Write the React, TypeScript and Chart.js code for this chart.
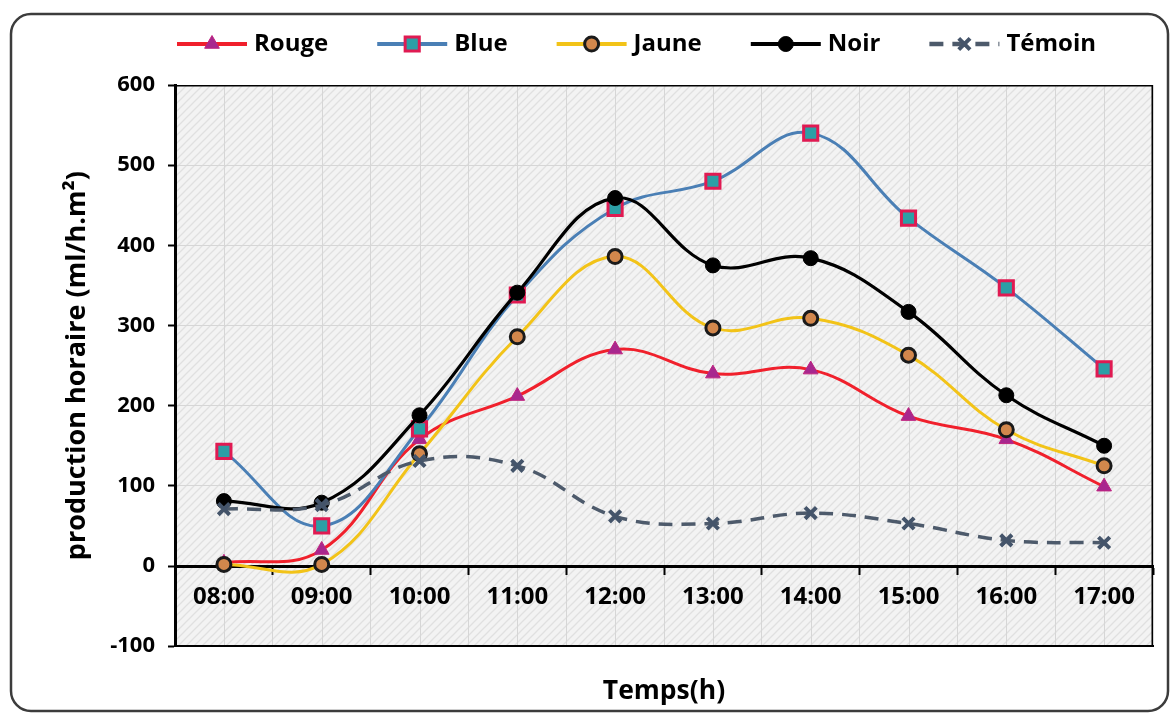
import React, { useEffect, useRef } from "react";
import { Chart, registerables } from "chart.js";
import { drawPoint } from "chart.js/helpers";

Chart.register(...registerables);

const labels = ["08:00", "09:00", "10:00", "11:00", "12:00", "13:00", "14:00", "15:00", "16:00", "17:00"];
const rouge = [4, 20, 158, 212, 270, 240, 245, 187, 158, 99];
const blue = [143, 50, 171, 338, 446, 480, 540, 434, 347, 246];
const jaune = [2, 2, 140, 286, 386, 297, 309, 263, 170, 125];
const noir = [81, 79, 188, 341, 459, 375, 384, 317, 213, 150];
const temoin = [71, 76, 131, 125, 62, 53, 66, 53, 32, 29];
const yTicks = { min: -100, max: 600, step: 100 };

const FONT = '"Open Sans", sans-serif';

function makePattern(ctx: CanvasRenderingContext2D) {
  const c = document.createElement("canvas");
  c.width = 8;
  c.height = 8;
  const p = c.getContext("2d")!;
  p.fillStyle = "#f3f3f3";
  p.fillRect(0, 0, 8, 8);
  p.strokeStyle = "#e0e0e0";
  p.lineWidth = 1.3;
  p.beginPath();
  p.moveTo(0, 8);
  p.lineTo(8, 0);
  p.moveTo(-4, 4);
  p.lineTo(4, -4);
  p.moveTo(4, 12);
  p.lineTo(12, 4);
  p.stroke();
  return ctx.createPattern(c, "repeat");
}

const backgroundPlugin = {
  id: "bgPlugin",
  beforeDraw(chart: any) {
    const { ctx, chartArea, scales } = chart;
    const { left, top, right, bottom } = chartArea;
    ctx.save();
    // outer rounded frame
    ctx.strokeStyle = "#3c3c3c";
    ctx.lineWidth = 2.5;
    ctx.beginPath();
    (ctx as any).roundRect(11, 14, 1157, 697, 20);
    ctx.stroke();
    // plot background
    const pat = makePattern(ctx);
    ctx.fillStyle = pat || "#f1f1f1";
    ctx.fillRect(left, top, right - left, bottom - top);
    // extra vertical grid lines at category centres
    ctx.strokeStyle = "#d6d6d6";
    ctx.lineWidth = 1;
    const x = scales.x;
    for (let i = 0; i < labels.length; i++) {
      const px = Math.round(x.getPixelForValue(i)) + 0.5;
      ctx.beginPath();
      ctx.moveTo(px, top);
      ctx.lineTo(px, bottom);
      ctx.stroke();
    }
    ctx.restore();
  },
  beforeDatasetsDraw(chart: any) {
    const { ctx, chartArea } = chart;
    const { left, top, right, bottom } = chartArea;
    ctx.save();
    ctx.strokeStyle = "#000";
    ctx.lineWidth = 1.5;
    ctx.beginPath();
    ctx.moveTo(left, top + 0.75);
    ctx.lineTo(right - 0.75, top + 0.75);
    ctx.lineTo(right - 0.75, bottom);
    ctx.stroke();
    ctx.restore();
  },
  afterDraw(chart: any) {
    const { ctx, chartArea } = chart;
    const y = 44;
    let x = chartArea.left + 2;
    ctx.save();
    ctx.font = `bold 24px ${FONT}`;
    ctx.textBaseline = "middle";
    ctx.textAlign = "left";
    chart.data.datasets.forEach((ds: any) => {
      ctx.strokeStyle = ds.borderColor;
      ctx.lineWidth = ds.borderWidth + 1;
      ctx.setLineDash(ds.borderDash || []);
      ctx.beginPath();
      ctx.moveTo(x, y);
      ctx.lineTo(x + 70, y);
      ctx.stroke();
      ctx.setLineDash([]);
      ctx.fillStyle = ds.pointBackgroundColor;
      ctx.strokeStyle = ds.pointBorderColor;
      ctx.lineWidth = ds.pointBorderWidth;
      drawPoint(ctx, { pointStyle: ds.pointStyle, radius: ds.pointRadius, borderWidth: ds.pointBorderWidth, rotation: 0 } as any, x + 35, y);
      ctx.fillStyle = "#000";
      ctx.fillText(ds.label, x + 77, y);
      x += 77 + ctx.measureText(ds.label).width + 49;
    });
    ctx.restore();
  },
};

export default function App() {
  const ref = useRef<HTMLCanvasElement>(null);
  useEffect(() => {
    if (!ref.current) return;
    const chart = new Chart(ref.current, {
      type: "line",
      data: {
        labels,
        datasets: [
          {
            label: "Rouge",
            data: rouge,
            borderColor: "#f0202c",
            borderWidth: 3,
            pointStyle: "triangle",
            pointRadius: 8.5,
            pointBackgroundColor: "#a8278e",
            pointBorderColor: "#c0237f",
            pointBorderWidth: 1,
            tension: 0.4,
            order: 5,
          },
          {
            label: "Blue",
            data: blue,
            borderColor: "#4a7fb5",
            borderWidth: 3,
            pointStyle: "rect",
            pointRadius: 10,
            pointBackgroundColor: "#2c9fa6",
            pointBorderColor: "#e01a52",
            pointBorderWidth: 3,
            tension: 0.4,
            order: 4,
          },
          {
            label: "Jaune",
            data: jaune,
            borderColor: "#f2c318",
            borderWidth: 3,
            pointStyle: "circle",
            pointRadius: 7,
            pointBackgroundColor: "#d2874c",
            pointBorderColor: "#1a1a1a",
            pointBorderWidth: 3,
            tension: 0.4,
            order: 3,
          },
          {
            label: "Noir",
            data: noir,
            borderColor: "#000000",
            borderWidth: 3.2,
            pointStyle: "circle",
            pointRadius: 7.5,
            pointBackgroundColor: "#000000",
            pointBorderColor: "#000000",
            pointBorderWidth: 1,
            tension: 0.4,
            order: 2,
          },
          {
            label: "Témoin",
            data: temoin,
            borderColor: "#4d5a6b",
            borderWidth: 3.5,
            borderDash: [14, 9],
            pointStyle: "crossRot",
            pointRadius: 8,
            pointBackgroundColor: "#44546a",
            pointBorderColor: "#44546a",
            pointBorderWidth: 4,
            tension: 0.4,
            order: 1,
          },
        ],
      },
      options: {
        animation: false,
        responsive: false,
        maintainAspectRatio: false,
        devicePixelRatio: 1,
        layout: { padding: { top: 85, right: 18, left: 0, bottom: 0 } },
        plugins: {
          legend: { display: false },
          tooltip: { enabled: false },
        },
        scales: {
          x: {
            type: "category",
            position: { y: 0 } as any,
            offset: true,
            grid: { offset: true, color: "#d6d6d6", lineWidth: 1, tickColor: "#000", tickLength: 7, tickWidth: 2 },
            border: { color: "#000", width: 3 },
            ticks: { color: "#000", padding: 10, font: { family: FONT, size: 24, weight: "bold" } },
          },
          xTitle: {
            type: "category",
            axis: "x",
            position: "bottom",
            offset: true,
            grid: { display: false, drawTicks: false },
            ticks: { display: false },
            border: { display: true, color: "#000", width: 2 },
            title: {
              display: true,
              text: "Temps(h)",
              color: "#000",
              font: { family: FONT, size: 26.5, weight: "bold", lineHeight: 1.2 },
              padding: { top: 29, bottom: 6 },
            },
          } as any,
          y: {
            min: yTicks.min,
            max: yTicks.max,
            ticks: { stepSize: yTicks.step, color: "#000", padding: 13, font: { family: FONT, size: 22, weight: "bold" } },
            grid: { color: "#d6d6d6", tickColor: "#000", tickLength: 7, tickWidth: 2 },
            border: { color: "#000", width: 3 },
            title: {
              display: true,
              text: "production horaire (ml/h.m²)",
              color: "#000",
              font: { family: FONT, size: 27, weight: "bold", lineHeight: 1.2 },
              padding: { top: 61, bottom: 0 },
            },
            afterFit(scale: any) {
              scale.width = 175;
            },
          },
        },
      },
      plugins: [backgroundPlugin],
    });
    return () => chart.destroy();
  }, []);
  return (
    <div style={{ position: "absolute", left: 0, top: 0, width: 1171, height: 713 }}>
      <canvas ref={ref} width={1171} height={713} style={{ width: 1171, height: 713 }} />
    </div>
  );
}
